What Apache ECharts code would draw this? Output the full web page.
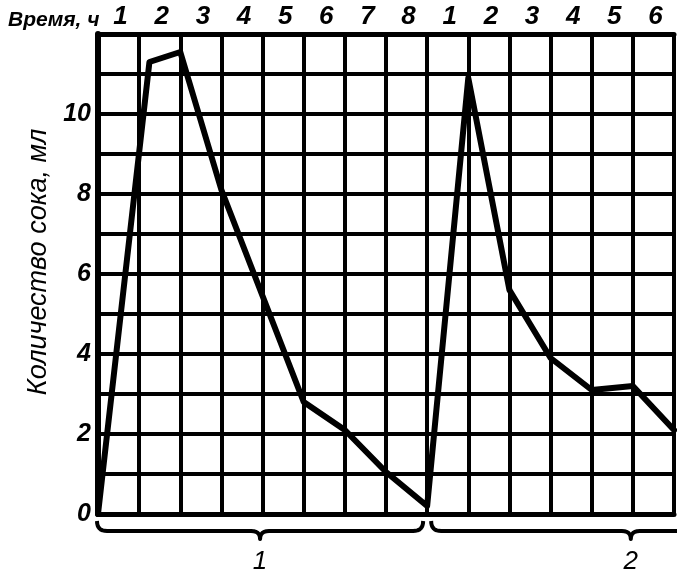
<!DOCTYPE html>
<html>
<head>
<meta charset="utf-8">
<script src="https://cdn.jsdelivr.net/npm/echarts@6/dist/echarts.min.js"></script>
<style>
html,body{margin:0;padding:0;background:#fff;}
#c{width:677px;height:578px;}
</style>
</head>
<body>
<div id="c"></div>
<script>
// Hours (continuous time axis: experiment 1 = 0..8, experiment 2 = 8..14)
const timeHours = [0, 1.25, 2, 3, 4, 5, 6, 7, 8, 9, 10, 11, 12, 13, 14];
// Juice amount, ml
const juiceMl = [0, 11.3, 11.55, 8.1, 5.45, 2.8, 2.1, 1.05, 0.2, 10.9, 5.6, 3.9, 3.1, 3.2, 2.1];
// Top hour labels (one per cell)
const hourLabels = ['1','2','3','4','5','6','7','8','1','2','3','4','5','6'];
// Y tick labels
const yTickLabels = ['0','2','4','6','8','10'];
// Experiment braces: [start hour, end hour, label]
const braceStarts = [0, 8];
const braceEnds = [8, 17.9];
const braceLabels = ['1', '2'];

const FONT = '"Liberation Sans", Arial, sans-serif';
const chart = echarts.init(document.getElementById('c'));

const option = {
  backgroundColor: '#fff',
  animation: false,
  title: {
    text: 'Время, ч',
    left: 3, top: 5,
    textStyle: {fontFamily: FONT, fontStyle: 'italic', fontWeight: 'bold', fontSize: 21, color: '#000'}
  },
  grid: {left: 98, right: 3, top: 34, bottom: 64},
  xAxis: [
    {
      type: 'value', min: 0, max: 14, interval: 1, position: 'bottom',
      axisLine: {show: true, lineStyle: {color: '#000', width: 5}},
      axisTick: {show: false},
      axisLabel: {show: false},
      splitLine: {show: true, lineStyle: {color: '#000', width: 4}}
    },
    {
      type: 'category', position: 'top', data: hourLabels, boundaryGap: true,
      axisLine: {show: true, lineStyle: {color: '#000', width: 5}},
      axisTick: {show: false},
      axisLabel: {show: true, margin: 4, color: '#000', fontFamily: FONT, fontStyle: 'italic', fontWeight: 'bold', fontSize: 26, padding: [0, 0, 0, 4]},
      splitLine: {show: false}
    }
  ],
  yAxis: {
    type: 'value', min: 0, max: 12, interval: 1,
    name: 'Количество сока, мл', nameLocation: 'middle', nameGap: 28, nameRotate: 90,
    nameTextStyle: {fontFamily: FONT, fontStyle: 'italic', fontSize: 27, color: '#000', padding: [0, 0, 0, 24]},
    axisLine: {show: true, lineStyle: {color: '#000', width: 6}},
    axisTick: {show: false},
    axisLabel: {
      margin: 7, color: '#000', fontFamily: FONT, fontStyle: 'italic', fontWeight: 'bold', fontSize: 25,
      padding: [0, 0, 8, 0],
      formatter: function (v) { const i = yTickLabels.indexOf(String(v)); return i >= 0 ? yTickLabels[i] : ''; }
    },
    splitLine: {show: true, lineStyle: {color: '#000', width: 4}}
  },
  series: [{
    type: 'line', xAxisIndex: 0,
    data: timeHours.map((t, i) => [t, juiceMl[i]]),
    symbol: 'none', lineStyle: {color: '#000', width: 6, join: 'round', cap: 'round'},
    clip: true
  }]
};
chart.setOption(option);

// Braces under the x axis, positioned through the axis scale
function quad(p0, p1, p2, n) {
  const pts = [];
  for (let i = 0; i <= n; i++) {
    const t = i / n, u = 1 - t;
    pts.push([u*u*p0[0] + 2*u*t*p1[0] + t*t*p2[0], u*u*p0[1] + 2*u*t*p1[1] + t*t*p2[1]]);
  }
  return pts;
}
const y0 = chart.convertToPixel({yAxisIndex: 0}, 0);
const graphics = [];
braceStarts.forEach((s, k) => {
  const x0 = chart.convertToPixel({xAxisIndex: 0}, s) + (k === 0 ? -1 : 4);
  const x1 = chart.convertToPixel({xAxisIndex: 0}, braceEnds[k]) - 4;
  const tip = (x0 + x1) / 2;
  const top = y0 + 7, mid = y0 + 17, bot = y0 + 25;
  let pts = [];
  pts = pts.concat(quad([x0, top], [x0, mid], [x0 + 10, mid], 8));
  pts = pts.concat(quad([tip - 9, mid], [tip, mid], [tip, bot], 6));
  pts = pts.concat(quad([tip, bot], [tip, mid], [tip + 9, mid], 6));
  pts = pts.concat(quad([x1 - 10, mid], [x1, mid], [x1, top], 8));
  graphics.push({type: 'polyline', shape: {points: pts}, style: {fill: null, stroke: '#000', lineWidth: 4, lineJoin: 'round'}, silent: true});
  graphics.push({type: 'text', x: tip, y: y0 + 48, style: {text: braceLabels[k], fill: '#000', font: 'italic 26px ' + FONT, textAlign: 'center', textVerticalAlign: 'middle'}});
});
chart.setOption({graphic: graphics});
</script>
</body>
</html>
